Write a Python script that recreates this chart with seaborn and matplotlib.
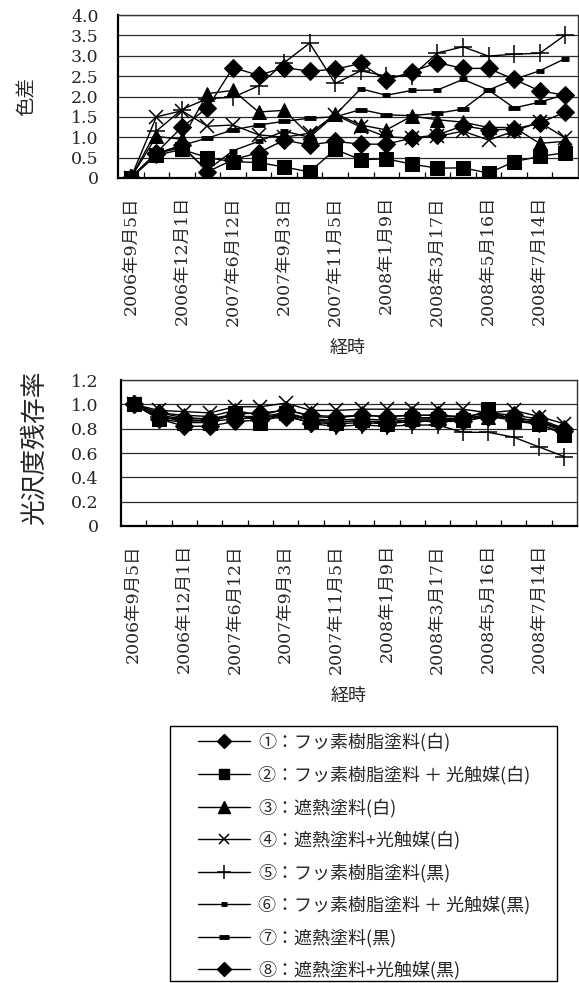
import numpy as np
import pandas as pd
import matplotlib
matplotlib.use('Agg')
import matplotlib.pyplot as plt
import seaborn as sns
from matplotlib.patches import Rectangle
from matplotlib.lines import Line2D

# ---------------- data ----------------
dates = ['2006年9月5日', '', '2006年12月1日', '', '2007年6月12日', '',
         '2007年9月3日', '', '2007年11月5日', '', '2008年1月9日', '',
         '2008年3月17日', '', '2008年5月16日', '', '2008年7月14日', '']

names = ['①：フッ素樹脂塗料(白)',
         '②：フッ素樹脂塗料 ＋ 光触媒(白)',
         '③：遮熱塗料(白)',
         '④：遮熱塗料+光触媒(白)',
         '⑤：フッ素樹脂塗料(黒)',
         '⑥：フッ素樹脂塗料 ＋ 光触媒(黒)',
         '⑦：遮熱塗料(黒)',
         '⑧：遮熱塗料+光触媒(黒)']

# colour difference (色差)
de_1 = [0, 0.60, 0.80, 0.15, 0.45, 0.62, 0.93, 0.81, 0.90, 0.83, 0.83, 0.98, 1.06, 1.28, 1.18, 1.20, 1.35, 1.62]
de_2 = [0, 0.56, 0.70, 0.50, 0.40, 0.38, 0.27, 0.15, 0.70, 0.45, 0.47, 0.34, 0.24, 0.25, 0.12, 0.40, 0.53, 0.62]
de_3 = [0, 1.02, 0.95, 2.07, 2.15, 1.62, 1.66, 1.05, 1.58, 1.30, 1.18, 1.52, 1.43, 1.37, 1.24, 1.24, 0.85, 0.90]
de_4 = [0, 1.50, 1.65, 1.27, 1.30, 1.06, 1.00, 1.10, 1.55, 1.25, 1.01, 0.98, 1.02, 1.15, 0.93, 1.15, 1.37, 0.98]
de_5 = [0, 1.15, 1.68, 1.95, 1.98, 2.26, 2.83, 3.31, 2.32, 2.63, 2.50, 2.50, 3.07, 3.22, 2.99, 3.04, 3.06, 3.51]
de_6 = [0, 0.60, 0.75, 0.20, 0.67, 0.90, 1.15, 1.00, 1.55, 2.19, 2.03, 2.15, 2.16, 2.42, 2.16, 2.42, 2.63, 2.93]
de_7 = [0, 0.60, 0.80, 0.98, 1.18, 1.30, 1.39, 1.47, 1.50, 1.68, 1.55, 1.53, 1.59, 1.69, 2.16, 1.72, 1.86, 2.05]
de_8 = [0, 0.62, 1.25, 1.72, 2.71, 2.52, 2.71, 2.62, 2.67, 2.81, 2.40, 2.61, 2.83, 2.69, 2.69, 2.42, 2.14, 2.03]

# gloss retention (光沢度残存率)
gl_1 = [1.0, 0.88, 0.82, 0.82, 0.86, 0.87, 0.90, 0.85, 0.84, 0.85, 0.84, 0.86, 0.86, 0.86, 0.90, 0.87, 0.85, 0.78]
gl_2 = [1.0, 0.88, 0.85, 0.85, 0.93, 0.85, 0.93, 0.86, 0.85, 0.87, 0.84, 0.88, 0.88, 0.87, 0.96, 0.86, 0.84, 0.75]
gl_3 = [1.0, 0.93, 0.91, 0.90, 0.95, 0.91, 0.96, 0.90, 0.89, 0.91, 0.90, 0.91, 0.91, 0.89, 0.90, 0.89, 0.86, 0.80]
gl_4 = [1.0, 0.95, 0.94, 0.93, 0.98, 0.98, 1.01, 0.95, 0.95, 0.96, 0.96, 0.96, 0.96, 0.96, 0.93, 0.95, 0.90, 0.84]
gl_5 = [1.0, 0.90, 0.87, 0.86, 0.88, 0.89, 0.92, 0.84, 0.82, 0.83, 0.82, 0.83, 0.83, 0.77, 0.77, 0.73, 0.65, 0.57]
gl_6 = [1.0, 0.91, 0.88, 0.88, 0.90, 0.90, 0.93, 0.88, 0.87, 0.88, 0.87, 0.89, 0.89, 0.88, 0.92, 0.89, 0.86, 0.79]
gl_7 = [1.0, 0.90, 0.86, 0.87, 0.91, 0.88, 0.92, 0.87, 0.86, 0.86, 0.86, 0.87, 0.87, 0.86, 0.91, 0.88, 0.83, 0.77]
gl_8 = [1.0, 0.93, 0.89, 0.88, 0.92, 0.93, 0.95, 0.91, 0.90, 0.91, 0.90, 0.91, 0.91, 0.90, 0.93, 0.91, 0.88, 0.80]

de_series = [de_1, de_2, de_3, de_4, de_5, de_6, de_7, de_8]
gl_series = [gl_1, gl_2, gl_3, gl_4, gl_5, gl_6, gl_7, gl_8]

top_ticks = [0, 0.5, 1.0, 1.5, 2.0, 2.5, 3.0, 3.5, 4.0]
top_ticklabels = ['0', '0.5', '1.0', '1.5', '2.0', '2.5', '3.0', '3.5', '4.0']
bot_ticks = [0, 0.2, 0.4, 0.6, 0.8, 1.0, 1.2]
bot_ticklabels = ['0', '0.2', '0.4', '0.6', '0.8', '1.0', '1.2']

# ---------------- style ----------------
styles = [dict(marker='D', markersize=9.5),
          dict(marker='s', markersize=9.5),
          dict(marker='^', markersize=10.5),
          dict(marker='x', markersize=9.5, markeredgewidth=1.1),
          dict(marker='+', markersize=12.5, markeredgewidth=1.1),
          dict(marker='_', markersize=6, markeredgewidth=3.5),
          dict(marker='_', markersize=9, markeredgewidth=3.5),
          dict(marker='D', markersize=9.5)]

sns.set_theme(style='white')
plt.rcParams['font.family'] = ['DejaVu Serif', 'Noto Sans CJK JP']
plt.rcParams['axes.unicode_minus'] = False

W, H = 579, 983
fig = plt.figure(figsize=(W / 100, H / 100), dpi=100)
fig.patch.set_facecolor('white')

ax1 = fig.add_axes([118 / W, 1 - 178 / H, 460 / W, 163 / H])
ax2 = fig.add_axes([121 / W, 1 - 526 / H, 456 / W, 146 / H])

x = np.arange(len(dates))


def draw(ax, series):
    for vals, st in zip(series, styles):
        df = pd.DataFrame({'x': x, 'y': vals})
        sns.lineplot(data=df, x='x', y='y', ax=ax, color='black', linewidth=1.0,
                     markeredgecolor='black', markerfacecolor='black', **st)


draw(ax1, de_series)
draw(ax2, gl_series)

for ax, lim, ticks, tl, ypad in [(ax1, (0, 4.0), top_ticks, top_ticklabels, 14),
                                  (ax2, (0, 1.2), bot_ticks, bot_ticklabels, 16)]:
    ax.set_xlim(-0.5, len(dates) - 0.5)
    ax.set_ylim(*lim)
    ax.set_yticks(ticks)
    ax.set_yticklabels(tl)
    ax.set_xticks(x)
    ax.set_xticklabels(dates, rotation=90)
    ax.set_xticks(np.arange(0.5, len(dates) - 0.5, 1), minor=True)
    ax.tick_params(axis='x', which='major', length=0, pad=13, labelsize=12.5)
    ax.tick_params(axis='x', which='minor', direction='in', length=4, width=0.9,
                   bottom=True, color='black')
    ax.tick_params(axis='y', length=0, pad=ypad, labelsize=12.5)
    ax.yaxis.grid(True, color='#2a2a2a', linewidth=0.9)
    ax.xaxis.grid(False)
    ax.set_axisbelow(True)
    for s in ['left', 'bottom']:
        ax.spines[s].set_color('black')
        ax.spines[s].set_linewidth(1.6)
    for s in ['top', 'right']:
        ax.spines[s].set_color('#333333')
        ax.spines[s].set_linewidth(1.0)
    ax.set_xlabel('経時', fontsize=13, labelpad=10)

ax1.set_ylabel('色差', fontsize=14, va='center')
ax1.yaxis.set_label_coords((28 - 118) / 460, 0.5)
ax2.set_ylabel('光沢度残存率', fontsize=18.5, va='center')
ax2.yaxis.set_label_coords((34 - 121) / 456, (526 - 448) / 146)

# ---------------- legend ----------------
handles = [Line2D([], [], color='black', linewidth=1.0, markeredgecolor='black',
                  markerfacecolor='black', **st) for st in styles]
fig.legend(handles, names, loc='upper left',
           bbox_to_anchor=(198 / W, 1 - 733 / H), frameon=False,
           borderaxespad=0, borderpad=0, handlelength=2.9, handletextpad=0.45,
           labelspacing=0.77, markerscale=0.8,
           prop={'family': ['Noto Sans CJK JP'], 'size': 13})
fig.add_artist(Rectangle((170 / W, 1 - 981 / H), (557 - 170) / W, (981 - 726) / H,
                         transform=fig.transFigure, fill=False, edgecolor='black',
                         linewidth=1.0))

fig.savefig('out.png', dpi=100, facecolor='white')
